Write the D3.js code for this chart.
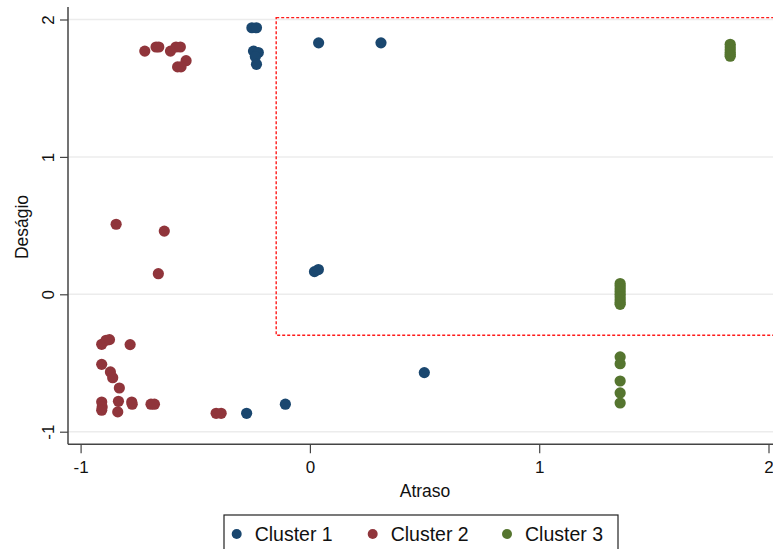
<!DOCTYPE html>
<html>
<head>
<meta charset="utf-8">
<script src="https://cdn.jsdelivr.net/npm/d3@7"></script>
<style>
  html, body { margin: 0; padding: 0; background: #fff; }
  svg { display: block; font-family: Arial, "Liberation Sans", sans-serif; }
</style>
</head>
<body>
<svg id="chart" width="773" height="549"></svg>
<script>
// Cluster memberships on the Atraso (x) / Deságio (y) plane
const cluster1X = [-0.253, -0.233, -0.246, -0.225, -0.238, -0.233, 0.038, 0.31, 0.02, 0.037, -0.276, -0.107, 0.499];
const cluster1Y = [1.94, 1.94, 1.77, 1.76, 1.73, 1.674, 1.83, 1.83, 0.165, 0.18, -0.866, -0.80, -0.57];

const cluster2X = [-0.72, -0.671, -0.659, -0.608, -0.584, -0.565, -0.54, -0.577, -0.562,
                   -0.845, -0.635, -0.661,
                   -0.908, -0.889, -0.874, -0.784, -0.908, -0.87, -0.86, -0.831,
                   -0.908, -0.906, -0.908, -0.835, -0.838, -0.777, -0.775, -0.693, -0.678,
                   -0.409, -0.387];
const cluster2Y = [1.77, 1.80, 1.80, 1.77, 1.80, 1.80, 1.70, 1.655, 1.655,
                   0.51, 0.46, 0.15,
                   -0.364, -0.335, -0.33, -0.366, -0.51, -0.565, -0.607, -0.682,
                   -0.784, -0.82, -0.844, -0.779, -0.856, -0.784, -0.80, -0.80, -0.80,
                   -0.866, -0.866];

const cluster3X = [1.833, 1.833, 1.833, 1.833, 1.833, 1.833,
                   1.353, 1.353, 1.353, 1.353, 1.353, 1.353, 1.353, 1.353, 1.353,
                   1.353, 1.353, 1.353, 1.353, 1.353];
const cluster3Y = [1.82, 1.80, 1.78, 1.76, 1.745, 1.733,
                   0.078, 0.06, 0.04, 0.02, 0.0, -0.02, -0.04, -0.06, -0.073,
                   -0.456, -0.505, -0.631, -0.718, -0.791];

const seriesNames = ["Cluster 1", "Cluster 2", "Cluster 3"];
const seriesColors = ["#1a476f", "#90353b", "#55752f"];

const xTicks = [-1, 0, 1, 2];
const yTicks = [-1, 0, 1, 2];

// Highlighted region (dashed box)
const boxX0 = -0.147, boxX1 = 2.2;
const boxY0 = -0.298, boxY1 = 2.014;

const svg = d3.select("#chart");

const x = d3.scaleLinear().domain([-1, 2]).range([80.6, 768.5]);
const y = d3.scaleLinear().domain([-1, 2]).range([431.7, 19.5]);

const plotLeft = 68, plotBottom = 444.3, plotTop = 7, plotRight = 773;
const fmt = d => String(d); // plain hyphen-minus, as in the original labels

// horizontal grid lines
svg.append("g").selectAll("line").data(yTicks).join("line")
  .attr("x1", plotLeft).attr("x2", plotRight)
  .attr("y1", d => y(d)).attr("y2", d => y(d))
  .attr("stroke", "#ececec").attr("stroke-width", 1.5);

// dashed highlight box
svg.append("rect")
  .attr("x", x(boxX0)).attr("y", y(boxY1))
  .attr("width", x(boxX1) - x(boxX0)).attr("height", y(boxY0) - y(boxY1))
  .attr("fill", "none").attr("stroke", "#ff1a1a").attr("stroke-width", 1.4)
  .attr("stroke-dasharray", "3,2");

// points
const series = [
  { xs: cluster1X, ys: cluster1Y, color: seriesColors[0] },
  { xs: cluster2X, ys: cluster2Y, color: seriesColors[1] },
  { xs: cluster3X, ys: cluster3Y, color: seriesColors[2] }
];
series.forEach(s => {
  const pts = s.xs.map((v, i) => [v, s.ys[i]]);
  svg.append("g").selectAll("circle").data(pts).join("circle")
    .attr("cx", d => x(d[0])).attr("cy", d => y(d[1]))
    .attr("r", 5.6).attr("fill", s.color);
});

// axes
const axisColor = "#444";
const yAxis = d3.axisLeft(y).tickValues(yTicks).tickSize(8).tickPadding(6).tickFormat(fmt);
const gy = svg.append("g").attr("transform", `translate(${plotLeft},0)`).call(yAxis);
gy.select(".domain").remove();
gy.selectAll(".tick line").attr("stroke", axisColor).attr("stroke-width", 1.2);
gy.selectAll(".tick text")
  .attr("x", 0).attr("dy", 0)
  .attr("transform", "translate(-14,0) rotate(-90)")
  .attr("text-anchor", "middle")
  .attr("font-size", 17).attr("fill", "#111")
  .attr("font-family", "Arial, 'Liberation Sans', sans-serif");

svg.append("line").attr("x1", plotLeft).attr("x2", plotLeft)
  .attr("y1", plotTop).attr("y2", plotBottom)
  .attr("stroke", axisColor).attr("stroke-width", 1.5);

const xAxis = d3.axisBottom(x).tickValues(xTicks).tickSize(9).tickPadding(8).tickFormat(fmt);
const gx = svg.append("g").attr("transform", `translate(0,${plotBottom})`).call(xAxis);
gx.select(".domain").remove();
gx.selectAll(".tick line").attr("stroke", axisColor).attr("stroke-width", 1.2);
gx.selectAll(".tick text")
  .attr("font-size", 17).attr("fill", "#111")
  .attr("font-family", "Arial, 'Liberation Sans', sans-serif");

svg.append("line").attr("x1", plotLeft).attr("x2", plotRight)
  .attr("y1", plotBottom).attr("y2", plotBottom)
  .attr("stroke", axisColor).attr("stroke-width", 1.5);

// axis titles
svg.append("text").attr("x", 425).attr("y", 497)
  .attr("text-anchor", "middle").attr("font-size", 17.5).attr("fill", "#111")
  .text("Atraso");
svg.append("text")
  .attr("transform", "translate(28,227) rotate(-90)")
  .attr("text-anchor", "middle").attr("font-size", 17.5).attr("fill", "#111")
  .text("Deságio");

// legend
const legend = svg.append("g");
legend.append("rect").attr("x", 224).attr("y", 515).attr("width", 394).attr("height", 50)
  .attr("fill", "#fff").attr("stroke", "#222").attr("stroke-width", 1.2);
const legendMarkX = [236.7, 372.7, 507];
seriesNames.forEach((name, i) => {
  legend.append("circle").attr("cx", legendMarkX[i]).attr("cy", 534).attr("r", 5)
    .attr("fill", seriesColors[i]);
  legend.append("text").attr("x", legendMarkX[i] + 18).attr("y", 541)
    .attr("font-size", 19.5).attr("fill", "#111").text(name);
});
</script>
</body>
</html>
